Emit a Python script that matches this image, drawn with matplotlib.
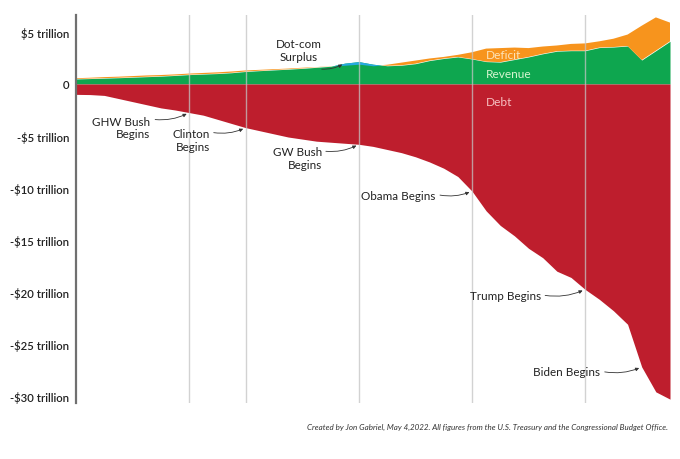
import matplotlib
matplotlib.use("Agg")
import matplotlib.pyplot as plt
import numpy as np

# ---------------- data (trillions of dollars) ----------------
years = list(range(1981, 2024))
revenue = [0.48, 0.52, 0.56, 0.60, 0.65, 0.70, 0.75, 0.82, 0.90, 0.95,
           1.00, 1.08, 1.20, 1.28, 1.35, 1.42, 1.50, 1.60, 1.70, 2.00,
           2.15, 1.90, 1.75, 1.80, 1.95, 2.25, 2.45, 2.60, 2.40, 2.15,
           2.10, 2.35, 2.60, 2.90, 3.15, 3.20, 3.20, 3.50, 3.55, 3.65,
           2.30, 3.20, 4.10]
outlays = [0.55, 0.60, 0.66, 0.70, 0.76, 0.82, 0.86, 0.92, 1.00, 1.06,
           1.12, 1.20, 1.30, 1.36, 1.42, 1.48, 1.56, 1.62, 1.72, 1.80,
           1.90, 1.75, 1.85, 2.05, 2.25, 2.45, 2.60, 2.80, 3.05, 3.40,
           3.45, 3.50, 3.45, 3.60, 3.70, 3.85, 3.90, 4.10, 4.35, 4.75,
           5.60, 6.40, 5.90]
debt = [1.00, 1.02, 1.10, 1.40, 1.70, 2.00, 2.30, 2.50, 2.75, 3.00,
        3.40, 3.80, 4.20, 4.50, 4.80, 5.10, 5.30, 5.50, 5.60, 5.70,
        5.80, 6.00, 6.30, 6.60, 7.00, 7.50, 8.10, 8.90, 10.30, 12.20,
        13.60, 14.60, 15.80, 16.70, 18.00, 18.60, 19.75, 20.70, 21.80, 23.10,
        27.20, 29.60, 30.30]

ytick_values = [5, 0, -5, -10, -15, -20, -25, -30]
ytick_labels = ["$5 trillion", "0", "-$5 trillion", "-$10 trillion",
                "-$15 trillion", "-$20 trillion", "-$25 trillion", "-$30 trillion"]
gridline_years = [1989, 1993, 2001, 2009, 2017]
event_labels = ["GHW Bush\nBegins", "Clinton\nBegins", "GW Bush\nBegins",
                "Obama Begins", "Trump Begins", "Biden Begins"]
event_years = [1989, 1993, 2001, 2009, 2017, 2021]
caption = ("Created by Jon Gabriel, May 4,2022. All figures from the U.S. "
           "Treasury and the Congressional Budget Office.")

# ---------------- style ----------------
RED = "#be1e2d"
GREEN = "#0ea64f"
ORANGE = "#f7941d"
BLUE = "#27aae1"
TXT = "#222222"
FONT = ["Lato", "DejaVu Sans"]
plt.rcParams["font.family"] = FONT

fig = plt.figure(figsize=(6.8, 4.6), dpi=100)
W, H = 680, 460
ax = fig.add_axes([76 / W, 1 - 404 / H, (670 - 76) / W, (404 - 16) / H])

x = np.array(years, dtype=float)
rev = np.array(revenue)
out = np.array(outlays)
dbt = np.array(debt)

ax.fill_between(x, 0, rev, color=GREEN, lw=0, zorder=1)
ax.fill_between(x, rev, out, where=out >= rev, interpolate=True,
                color=ORANGE, lw=0, zorder=1)
ax.fill_between(x, out, rev, where=rev > out, interpolate=True,
                color=BLUE, lw=0, zorder=2)
ax.fill_between(x, 0, -dbt, color=RED, lw=0, zorder=1)

for gy in gridline_years:
    ax.axvline(gy, color="#c4c4c4", lw=1.0, alpha=0.75, zorder=3)

ax.set_xlim(1981, 2023)
ax.set_ylim(-30.67, 6.63)
for s in ["top", "right", "bottom"]:
    ax.spines[s].set_visible(False)
ax.spines["left"].set_color("#707070")
ax.spines["left"].set_linewidth(1.6)
ax.set_xticks([])
ax.set_yticks(ytick_values)
ax.set_yticklabels(ytick_labels, fontsize=8.2, fontweight="semibold", color=TXT)
ax.tick_params(axis="y", length=0, pad=5)

# series labels
ax.text(2010.0, 2.8, "Deficit", color="#fde2b8", fontsize=8.6, va="center", zorder=4)
ax.text(2010.0, 0.96, "Revenue", color="#d6f5cf", fontsize=8.6, va="center", zorder=4)
ax.text(2010.0, -1.73, "Debt", color="#f7c0c0", fontsize=8.6, va="center", zorder=4)

arrow_kw = dict(arrowstyle="-|>", connectionstyle="arc3,rad=0.15",
                color="#333333", lw=0.6, mutation_scale=5,
                shrinkA=0, shrinkB=2)

# event annotations: (text offset, arrow-start offset) in pixels from target
text_offsets = [(-39, -15), (-36, -12), (-37, -14), (-37, -4), (-44, -6), (-42, -5)]
arrow_offsets = [(-34, -7), (-32, -5), (-33, -7), (-32, -4), (-40, -6), (-37, -5)]
for lab, yr, toff, aoff in zip(event_labels, event_years, text_offsets, arrow_offsets):
    idx = years.index(yr)
    target = (yr, -debt[idx])
    ax.annotate("", xy=target, xytext=aoff, textcoords="offset pixels",
                arrowprops=arrow_kw, zorder=5)
    ax.annotate(lab, xy=target, xytext=toff, textcoords="offset pixels",
                ha="right", va="center", multialignment="right",
                fontsize=8.4, color=TXT, linespacing=1.2, zorder=5)

# Dot-com surplus
idx = years.index(2000)
target = (2000, revenue[idx])
ax.annotate("", xy=target, xytext=(-23, -6), textcoords="offset pixels",
            arrowprops=arrow_kw, zorder=5)
ax.annotate("Dot-com\nSurplus", xy=target, xytext=(-46, 13), textcoords="offset pixels",
            ha="center", va="center", multialignment="center",
            fontsize=8.4, color=TXT, linespacing=1.2, zorder=5)

fig.text(668 / W, 1 - 427 / H, caption, ha="right", va="center",
         style="italic", fontsize=5.8, color="#333333",
         family=["Liberation Sans Narrow", "Lato", "DejaVu Sans"])

fig.savefig("out.png", dpi=100)
